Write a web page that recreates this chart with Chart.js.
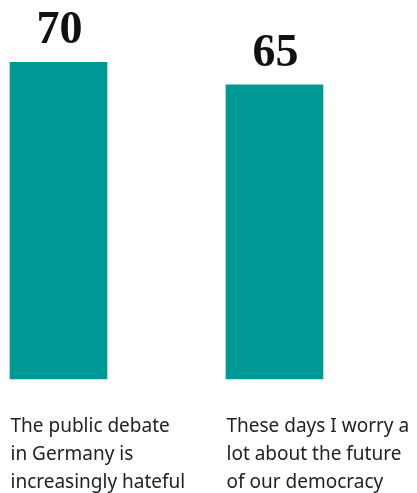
<!DOCTYPE html>
<html>
<head>
<meta charset="utf-8">
<title>Hate and democracy</title>
<script src="https://cdn.jsdelivr.net/npm/chart.js@4.4.1/dist/chart.umd.min.js"></script>
<style>
    html, body { margin: 0; padding: 0; background: #ffffff; overflow: hidden; }
    #chartBox { width: 417px; height: 493px; }
</style>
</head>
<body>
<div id="chartBox"><canvas id="agreeChart" width="417" height="493"></canvas></div>
<script>
// Statements (one array per line of the wrapped label)
const statements = [
    ['The public debate', 'in Germany is', 'increasingly hateful'],
    ['These days I worry a', 'lot about the future', 'of our democracy']
];
// Share agreeing, percent
const agreeValues = [70, 65];

const TEAL = '#009a96';

// Big serif number above each bar
const valueLabels = {
    id: 'valueLabels',
    afterDatasetsDraw(chart) {
        const ctx = chart.ctx;
        const meta = chart.getDatasetMeta(0);
        ctx.save();
        ctx.font = 'bold 46px "Liberation Serif", "Times New Roman", serif';
        ctx.fillStyle = '#111111';
        ctx.textAlign = 'center';
        ctx.textBaseline = 'alphabetic';
        meta.data.forEach((bar, i) => {
            ctx.fillText(String(agreeValues[i]), bar.x + 1, bar.y - 19);
        });
        ctx.restore();
    }
};

document.addEventListener('DOMContentLoaded', function () {
    const ctx = document.getElementById('agreeChart');
    new Chart(ctx, {
        type: 'bar',
        data: {
            labels: statements,
            datasets: [{
                data: agreeValues,
                backgroundColor: TEAL,
                borderWidth: 0,
                barThickness: 97,
                clip: false
            }]
        },
        options: {
            responsive: false,
            animation: false,
            layout: {
                padding: { top: 17, left: 58.5, right: 142.5, bottom: 0 }
            },
            plugins: {
                legend: { display: false },
                tooltip: { enabled: false }
            },
            scales: {
                x: {
                    offset: false,
                    grid: { display: false, drawTicks: false },
                    border: { display: false },
                    ticks: {
                        align: 'start',
                        labelOffset: -48,
                        padding: 34,
                        autoSkip: false,
                        maxRotation: 0,
                        color: '#222222',
                        font: { family: '"Noto Sans", sans-serif', size: 19, lineHeight: 1.474 }
                    },
                    afterFit: function (scale) {
                        // labels hang left of their tick, keep the plot area fixed
                        scale.paddingLeft = 0;
                        scale.paddingRight = 0;
                        scale.height = 114;
                    }
                },
                y: {
                    display: false,
                    min: 0,
                    max: 80
                }
            }
        },
        plugins: [valueLabels]
    });
});
</script>
</body>
</html>
